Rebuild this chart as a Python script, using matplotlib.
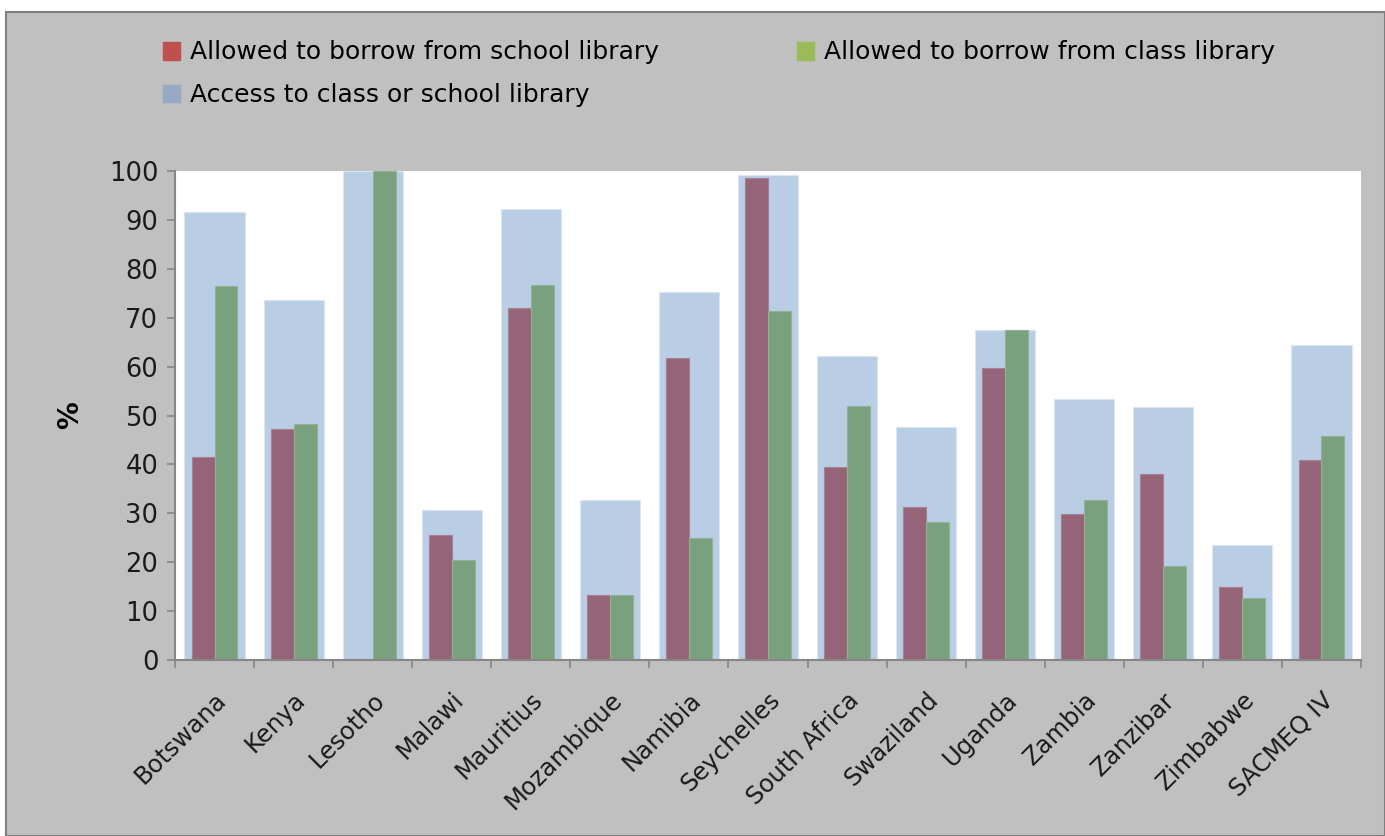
import numpy as np
import matplotlib
matplotlib.use("Agg")
import matplotlib.pyplot as plt
from matplotlib.patches import Patch, Rectangle

countries = ["Botswana", "Kenya", "Lesotho", "Malawi", "Mauritius", "Mozambique",
             "Namibia", "Seychelles", "South Africa", "Swaziland", "Uganda",
             "Zambia", "Zanzibar", "Zimbabwe", "SACMEQ IV"]
access = [91.6, 73.7, 100.0, 30.7, 92.2, 32.8, 75.2, 99.1, 62.1, 47.7,
          67.4, 53.4, 51.8, 23.5, 64.5]
school_lib = [41.5, 47.2, 0.0, 25.6, 72.0, 13.3, 61.8, 98.6, 39.4, 31.3,
              59.7, 29.9, 38.0, 15.0, 40.8]
class_lib = [76.5, 48.3, 100.0, 20.5, 76.7, 13.3, 25.0, 71.3, 52.0, 28.3,
             67.4, 32.8, 19.2, 12.6, 45.9]

labels = ["Allowed to borrow from school library",
          "Allowed to borrow from class library",
          "Access to class or school library"]

W, H = 1385, 836
fig = plt.figure(figsize=(W / 100, H / 100), dpi=100, facecolor="white")

# grey chart frame behind everything
fig.patches.append(Rectangle((6 / W, 0), 1 - 6 / W, (H - 12) / H,
                             transform=fig.transFigure, facecolor="#C0C0C0",
                             edgecolor="#7F7F7F", linewidth=1.5, zorder=-10))

ax = fig.add_axes([175 / W, (H - 660) / H, (1361 - 175) / W, (660 - 171) / H])
ax.set_facecolor("white")

x = np.arange(len(countries))
ax.bar(x, access, width=0.76, color="#B9CDE5", edgecolor="#DCE6F2", linewidth=0.8, zorder=1)
ax.bar(x - 0.145, school_lib, width=0.29, color="#956478", edgecolor="#A8808F", linewidth=0.8, zorder=2)
ax.bar(x + 0.145, class_lib, width=0.29, color="#7AA17E", edgecolor="#92B295", linewidth=0.8, zorder=2)

ax.set_xlim(-0.5, len(countries) - 0.5)
ax.set_ylim(0, 100)
ax.set_yticks(range(0, 101, 10))
ax.tick_params(axis="y", labelsize=18.5, length=6, width=1.2, color="#868686",
               pad=6, labelcolor="#1A1A1A")
ax.set_xticks(x)
ax.set_xticklabels(countries, rotation=45, ha="right", rotation_mode="anchor",
                   fontsize=17.5, color="#1A1A1A")
ax.set_xticks(np.arange(-0.5, len(countries)), minor=True)
ax.tick_params(axis="x", which="major", length=0, pad=20)
ax.tick_params(axis="x", which="minor", length=6, width=1.2, color="#868686")

for side in ["top", "right"]:
    ax.spines[side].set_visible(False)
for side in ["left", "bottom"]:
    ax.spines[side].set_color("#868686")
    ax.spines[side].set_linewidth(1.5)

ax.set_ylabel("%", fontsize=20, fontweight="bold")
ax.yaxis.set_label_coords((84 - 175) / (1361 - 175), 0.5)

handles = [Patch(color="#C0504D"), Patch(color="#95A9C5"), Patch(color="#9BBB59")]
fig.legend(handles, [labels[0], labels[2], labels[1]], ncol=2, frameon=False,
           loc="upper left", bbox_to_anchor=(140 / W, 1 - 18 / H),
           fontsize=18, handlelength=0.7, handleheight=0.7, handletextpad=0.4,
           columnspacing=5.5, labelspacing=0.75)

fig.savefig("out.png", dpi=100, facecolor=fig.get_facecolor())
